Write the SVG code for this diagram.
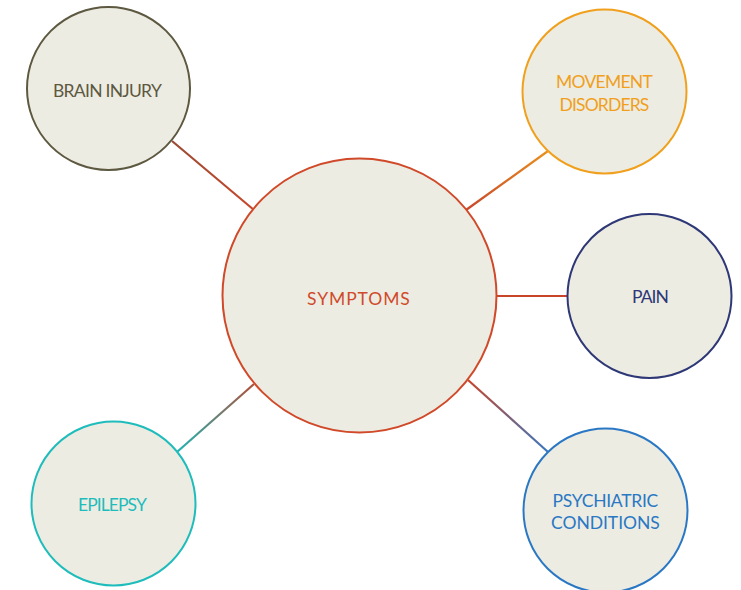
<svg xmlns="http://www.w3.org/2000/svg" width="741" height="590" viewBox="0 0 741 590">
<style>
.node{fill:#edece3;stroke-width:2}
.lbl{font-family:Lato,"Open Sans",sans-serif;font-size:17.5px;font-weight:400;text-anchor:middle;letter-spacing:1.2px}
.con{stroke-width:2.2;fill:none}
</style>
<defs>
<linearGradient id="gBrain" gradientUnits="userSpaceOnUse" x1="172" y1="141" x2="254" y2="210"><stop offset="0" stop-color="#9a4a34"/><stop offset="1" stop-color="#c8482a"/></linearGradient>
<linearGradient id="gMove" gradientUnits="userSpaceOnUse" x1="548" y1="151" x2="466" y2="210"><stop offset="0" stop-color="#e8901e"/><stop offset="1" stop-color="#c8462a"/></linearGradient>
<linearGradient id="gEpi" gradientUnits="userSpaceOnUse" x1="177" y1="452" x2="254" y2="384"><stop offset="0" stop-color="#1fb4b4"/><stop offset="1" stop-color="#b0503a"/></linearGradient>
<linearGradient id="gPsy" gradientUnits="userSpaceOnUse" x1="468" y1="380" x2="548" y2="452"><stop offset="0" stop-color="#c8462a"/><stop offset="1" stop-color="#3a78c0"/></linearGradient>
</defs>
<rect width="741" height="590" fill="#ffffff"/>
<g id="connectors">
<line class="con" x1="172" y1="141" x2="254" y2="210" stroke="url(#gBrain)"/>
<line class="con" x1="548" y1="151" x2="466" y2="210" stroke="url(#gMove)"/>
<line class="con" x1="496" y1="296" x2="568" y2="296" stroke="#c8452a"/>
<line class="con" x1="177" y1="452" x2="254" y2="384" stroke="url(#gEpi)"/>
<line class="con" x1="468" y1="380" x2="548" y2="452" stroke="url(#gPsy)"/>
</g>
<g id="symptoms">
<circle class="node" cx="359.5" cy="295.5" r="137" stroke="#d04a2a"/>
<text class="lbl" x="359" y="305" fill="#d04a2a" textLength="104">SYMPTOMS</text>
</g>
<g id="brain-injury">
<circle class="node" cx="108.5" cy="88.5" r="81.5" stroke="#5d5840"/>
<text class="lbl" x="108" y="97" fill="#5d5840" textLength="110">BRAIN INJURY</text>
</g>
<g id="movement-disorders">
<circle class="node" cx="604.5" cy="91.5" r="82" stroke="#f0a01c"/>
<text class="lbl" fill="#f0a01c"><tspan x="605" y="88" textLength="98">MOVEMENT</tspan><tspan x="605" y="110.5" textLength="91">DISORDERS</tspan></text>
</g>
<g id="pain">
<circle class="node" cx="649.5" cy="296" r="82" stroke="#2e3876"/>
<text class="lbl" x="651" y="303" fill="#2e3876" textLength="38">PAIN</text>
</g>
<g id="epilepsy">
<circle class="node" cx="113.5" cy="503.5" r="82" stroke="#1fbcbc"/>
<text class="lbl" x="113" y="511" fill="#1fbcbc" textLength="70">EPILEPSY</text>
</g>
<g id="psychiatric-conditions">
<circle class="node" cx="605.5" cy="510.5" r="82" stroke="#2a78c4"/>
<text class="lbl" fill="#2a78c4"><tspan x="606" y="507" textLength="107">PSYCHIATRIC</tspan><tspan x="606" y="529" textLength="110">CONDITIONS</tspan></text>
</g>
</svg>
